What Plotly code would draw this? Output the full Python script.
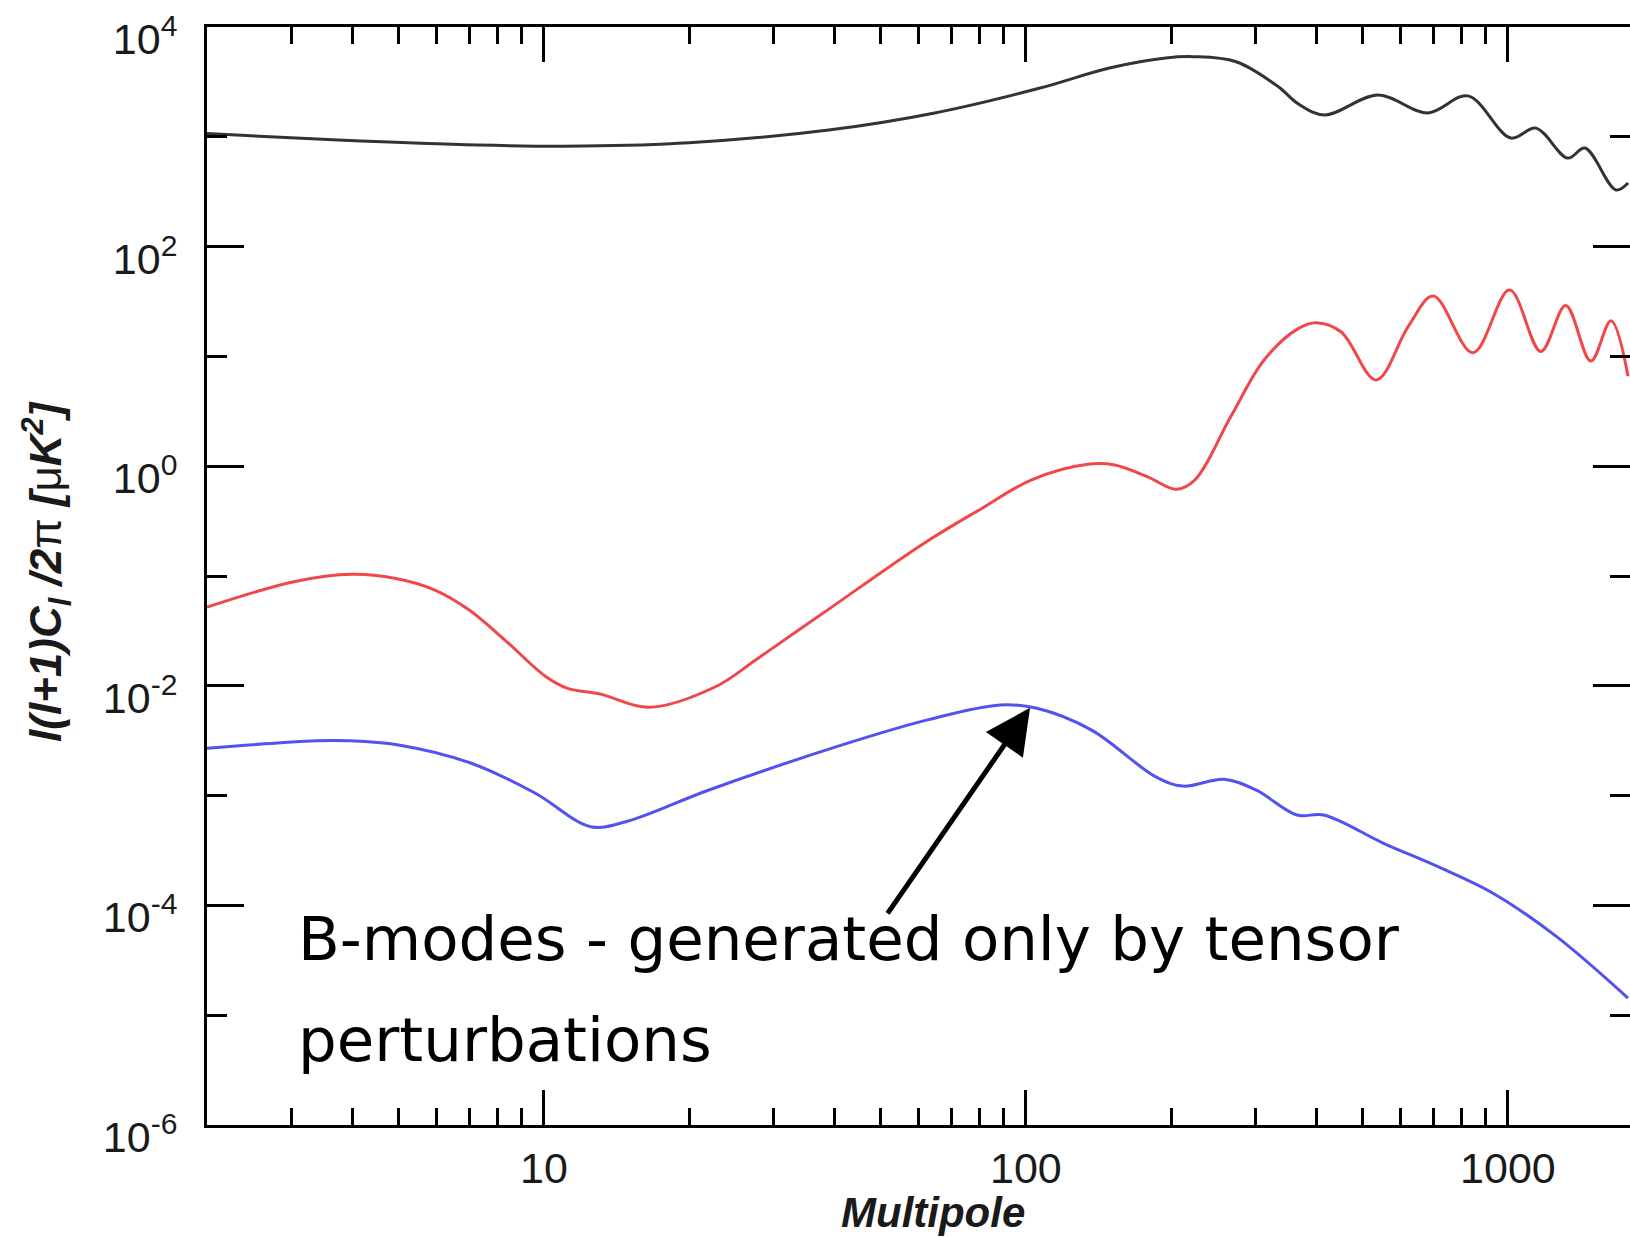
import numpy as np
import plotly.graph_objects as go

# --- CMB angular power spectra, l(l+1)C_l/2pi in muK^2 ---
# Temperature (TT)
tt_l = [2.0, 3.74, 7.3, 12.1, 20, 39, 64.7, 107, 149, 195, 223, 273, 334, 367,
        417, 537, 682, 826, 1014, 1143, 1331, 1445, 1675, 1775]
tt_d = [1070, 935, 841, 824, 883, 1153, 1648, 2780, 4236, 5224, 5370, 4830, 2858, 2000,
        1580, 2400, 1650, 2360, 975, 1200, 640, 790, 328, 380]

# E-mode polarisation (EE)
ee_l = [2.0, 3.03, 4.0, 4.9, 5.94, 7.0, 8.3, 10.1, 11.2, 13.1, 16.5, 22.7, 27.5, 37.9,
        61.6, 80.8, 102.5, 134.5, 152.8, 179, 205, 224, 266, 312, 367, 400, 451,
        533, 621, 700, 846, 1008, 1170, 1318, 1486, 1636, 1775]
ee_d = [0.052, 0.0887, 0.1035, 0.0953, 0.0745, 0.049, 0.0261, 0.0121, 0.00948, 0.0084,
        0.00637, 0.0098, 0.0172, 0.0457, 0.2, 0.41, 0.748, 1.04, 1.026, 0.80,
        0.617, 0.748, 2.82, 9.27, 17.9, 20.3, 16.7, 6.1, 18.7, 35.5, 10.8, 40.2, 11.1,
        29.1, 9.08, 21.1, 6.6]

# B-mode polarisation (BB)
bb_l = [2.0, 3.37, 3.92, 4.99, 7.07, 9.6, 12.5, 14.8, 22, 40.5, 62.5, 88.5, 105.4,
        136.9, 185.6, 211.6, 257.6, 300, 365, 415, 552, 716, 931, 1262, 1775]
bb_d = [2.7e-3, 3.16e-3, 3.16e-3, 2.89e-3, 1.97e-3, 1.05e-3, 5.21e-4, 5.78e-4, 1.125e-3,
        2.79e-3, 4.89e-3, 6.68e-3, 6.24e-3, 3.95e-3, 1.49e-3, 1.22e-3, 1.41e-3, 1.125e-3,
        6.65e-4, 6.65e-4, 3.68e-4, 2.25e-4, 1.29e-4, 5.19e-5, 1.43e-5]

# Axis ticks
x_major = [10, 100, 1000]
x_major_text = ["10", "100", "1000"]
x_minor = [3, 4, 5, 6, 7, 8, 9, 20, 30, 40, 50, 60, 70, 80, 90,
           200, 300, 400, 500, 600, 700, 800, 900]
y_major = [1e4, 1e2, 1e0, 1e-2, 1e-4, 1e-6]
y_major_text = ["10<sup>4</sup>", "10<sup>2</sup>", "10<sup>0</sup>",
                "10<sup>-2</sup>", "10<sup>-4</sup>", "10<sup>-6</sup>"]
y_minor = [1e3, 1e1, 1e-1, 1e-3, 1e-5]

# B-mode peak pointer (head) and label anchor (tail)
arrow_head = (102.0, 6.3e-3)
arrow_tail = (51.4, 8.2e-5)

W, H = 1630, 1237
ML, MR, MT, MB = 207, 0, 27, 112
plot_w = W - ML - MR
plot_h = H - MT - MB

X_RANGE = [np.log10(2.0), np.log10(2.0) + plot_w / 482.0]
Y_RANGE = [-6.0002, 4.0002]

AX_FONT = "Arial, Liberation Sans, sans-serif"

fig = go.Figure()
fig.add_trace(go.Scatter(x=ee_l, y=ee_d, mode="lines", line=dict(color="#f04848", width=3, shape="spline"),
                         hoverinfo="skip", showlegend=False))
fig.add_trace(go.Scatter(x=bb_l, y=bb_d, mode="lines", line=dict(color="#5252ee", width=3, shape="spline"),
                         hoverinfo="skip", showlegend=False))
fig.add_trace(go.Scatter(x=tt_l, y=tt_d, mode="lines", line=dict(color="#333333", width=3, shape="spline"),
                         yaxis="y2", hoverinfo="skip", showlegend=False))

fig.update_layout(
    width=W, height=H,
    margin=dict(l=ML, r=MR, t=MT, b=MB, pad=0),
    paper_bgcolor="white", plot_bgcolor="white",
    xaxis=dict(
        type="log", range=X_RANGE, showgrid=False, zeroline=False,
        showline=True, linecolor="black", linewidth=3, mirror="ticks",
        ticks="inside", ticklen=35, tickwidth=3, tickcolor="black",
        tickmode="array", tickvals=x_major, ticktext=x_major_text,
        minor=dict(tickmode="array", tickvals=x_minor, ticks="inside", ticklen=17,
                   tickwidth=3, tickcolor="black", showgrid=False),
        tickfont=dict(family=AX_FONT, size=43, color="#1a1a1a"),
        ticklabelstandoff=3,
    ),
    yaxis=dict(
        type="log", range=Y_RANGE, showgrid=False, zeroline=False,
        showline=True, linecolor="black", linewidth=3,
        ticks="inside", ticklen=37, tickwidth=3, tickcolor="black",
        tickmode="array", tickvals=y_major, ticktext=y_major_text,
        minor=dict(tickmode="array", tickvals=y_minor, ticks="inside", ticklen=20,
                   tickwidth=3, tickcolor="black", showgrid=False),
        tickfont=dict(family=AX_FONT, size=43, color="#1a1a1a"),
        ticklabelstandoff=18, ticklabelshift=12,
    ),
    yaxis2=dict(
        type="log", range=Y_RANGE, overlaying="y", side="right", anchor="x",
        showgrid=False, zeroline=False, showline=False, showticklabels=False,
        ticks="inside", ticklen=37, tickwidth=3, tickcolor="black",
        tickmode="array", tickvals=y_major,
        minor=dict(tickmode="array", tickvals=y_minor, ticks="inside", ticklen=20,
                   tickwidth=3, tickcolor="black", showgrid=False),
    ),
)

def px_x(px):
    return (px - ML) / plot_w

def px_y(py):
    return (H - MB - py) / plot_h

# Axis titles
fig.add_annotation(
    text="<b><i>l(l+1)C<sub>l</sub> /2</i></b>π<b><i> [</i></b>μ<b><i>K<sup>2</sup>]</i></b>",
    xref="paper", yref="paper", x=px_x(46), y=px_y(572), textangle=-90,
    showarrow=False, xanchor="center", yanchor="middle",
    font=dict(family=AX_FONT, size=44, color="#1a1a1a"),
)
fig.add_annotation(
    text="<b><i>Multipole</i></b>",
    xref="paper", yref="paper", x=px_x(933), y=px_y(1212),
    showarrow=False, xanchor="center", yanchor="middle",
    font=dict(family=AX_FONT, size=42, color="#1a1a1a"),
)

# Pointer to the B-mode peak
fig.add_annotation(
    text="", x=np.log10(arrow_head[0]), y=np.log10(arrow_head[1]), xref="x", yref="y",
    ax=np.log10(arrow_tail[0]), ay=np.log10(arrow_tail[1]), axref="x", ayref="y",
    showarrow=True, arrowhead=2, arrowsize=1.8, arrowwidth=5, arrowcolor="black", standoff=0,
)

# Label text
LABEL_FONT = dict(family="DejaVu Sans, sans-serif", size=61, color="black")
fig.add_annotation(
    text="B-modes - generated only by tensor", xref="paper", yref="paper",
    x=px_x(296), y=px_y(938), xanchor="left", yanchor="middle",
    showarrow=False, font=LABEL_FONT,
)
fig.add_annotation(
    text="perturbations", xref="paper", yref="paper",
    x=px_x(296), y=px_y(1039), xanchor="left", yanchor="middle",
    showarrow=False, font=LABEL_FONT,
)

fig.write_html("out.html")
